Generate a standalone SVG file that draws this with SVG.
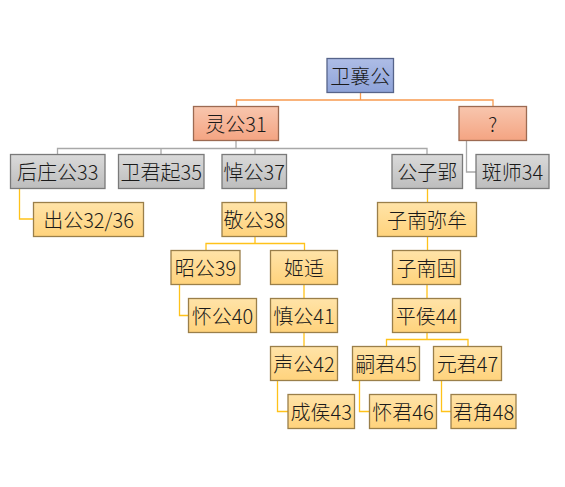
<svg xmlns="http://www.w3.org/2000/svg" width="565" height="487" viewBox="0 0 565 487">
<defs>
<linearGradient id="gb" x1="0" y1="0" x2="0" y2="1"><stop offset="0" stop-color="#aebde6"/><stop offset="1" stop-color="#8ea3d9"/></linearGradient>
<linearGradient id="go" x1="0" y1="0" x2="0" y2="1"><stop offset="0" stop-color="#f8c6ae"/><stop offset="1" stop-color="#f4a482"/></linearGradient>
<linearGradient id="gg" x1="0" y1="0" x2="0" y2="1"><stop offset="0" stop-color="#dadada"/><stop offset="1" stop-color="#bdbdbd"/></linearGradient>
<linearGradient id="gy" x1="0" y1="0" x2="0" y2="1"><stop offset="0" stop-color="#ffe3a8"/><stop offset="1" stop-color="#ffd37c"/></linearGradient>
</defs>
<style>
rect{stroke-width:1.3}
.b{fill:url(#gb);stroke:#56648a}
.o{fill:url(#go);stroke:#9c6a52}
.g{fill:url(#gg);stroke:#7a7a7a}
.y{fill:url(#gy);stroke:#9a7f4a}
text{font-family:"Microsoft YaHei","Noto Sans CJK SC","Liberation Sans",sans-serif;font-size:20px;font-weight:300;fill:#1a1a1a;text-anchor:middle;dominant-baseline:central}
.c path{fill:none;stroke-width:1.3}
.co{stroke:#f79a50}
.cg{stroke:#a8a8a8}
.cy{stroke:#ffc21a}
</style>
<rect width="565" height="487" fill="#ffffff"/>
<g class="c" id="connectors">
<path class="co" d="M360.5 92.5V100M236.5 106V100H493V106"/>
<path class="cg" d="M236 140.5V148.5M57.5 154.5V148.5H427V154.5M161 148.5V154.5M255 148.5V154.5"/>
<path class="cg" d="M466.5 140.5V172H476"/>
<path class="cy" d="M19.5 188.5V219H33"/>
<path class="cy" d="M255 188.5V202"/>
<path class="cy" d="M427.5 188.5V202"/>
<path class="cy" d="M255 236V243.5M206 250V243.5H304.5V250"/>
<path class="cy" d="M179.5 284V315.5H188"/>
<path class="cy" d="M304 284V298M304 332V346"/>
<path class="cy" d="M277.5 380.5V411.5H288"/>
<path class="cy" d="M427.5 236V250M427 284V298M427 332V339.5M386.5 346V339.5H468V346"/>
<path class="cy" d="M359.5 380.5V411.5H369"/>
<path class="cy" d="M441.5 380.5V411.5H451"/>
</g>
<g id="n1"><rect class="b" x="327" y="58.5" width="66.5" height="34"/><text x="360.3" y="75.5">卫襄公</text></g>
<g id="n2"><rect class="o" x="193.5" y="106.5" width="85" height="34"/><text x="236" y="123.5">灵公31</text></g>
<g id="n3"><rect class="o" x="459" y="106.5" width="67.5" height="34"/><text x="492.7" y="123.5">?</text></g>
<g id="n4"><rect class="g" x="10.5" y="154.5" width="94.5" height="34"/><text x="57.7" y="171.5">后庄公33</text></g>
<g id="n5"><rect class="g" x="118.5" y="154.5" width="85.5" height="34"/><text x="161.2" y="171.5">卫君起35</text></g>
<g id="n6"><rect class="g" x="222" y="154.5" width="64.5" height="34"/><text x="254.2" y="171.5">悼公37</text></g>
<g id="n7"><rect class="g" x="392" y="154.5" width="70.5" height="34"/><text x="427.2" y="171.5">公子郢</text></g>
<g id="n8"><rect class="g" x="476" y="154.5" width="73" height="34"/><text x="512.5" y="171.5">斑师34</text></g>
<g id="n9"><rect class="y" x="33.5" y="202.5" width="110" height="34"/><text x="88.5" y="219.5">出公32/36</text></g>
<g id="n10"><rect class="y" x="222" y="202.5" width="64.5" height="34"/><text x="254.2" y="219.5">敬公38</text></g>
<g id="n11"><rect class="y" x="377.5" y="202.5" width="99" height="34"/><text x="427" y="219.5">子南弥牟</text></g>
<g id="n12"><rect class="y" x="171" y="250.5" width="69" height="34"/><text x="205.5" y="267.5">昭公39</text></g>
<g id="n13"><rect class="y" x="270.5" y="250.5" width="67" height="34"/><text x="304" y="267.5">姬适</text></g>
<g id="n14"><rect class="y" x="392.5" y="250.5" width="68" height="34"/><text x="426.5" y="267.5">子南固</text></g>
<g id="n15"><rect class="y" x="188.5" y="298.5" width="68" height="34"/><text x="222.5" y="315.5">怀公40</text></g>
<g id="n16"><rect class="y" x="270.5" y="298.5" width="67" height="34"/><text x="304" y="315.5">慎公41</text></g>
<g id="n17"><rect class="y" x="392.5" y="298.5" width="68" height="34"/><text x="426.5" y="315.5">平侯44</text></g>
<g id="n18"><rect class="y" x="270.5" y="346.5" width="67" height="34"/><text x="304" y="363.5">声公42</text></g>
<g id="n19"><rect class="y" x="352.5" y="346.5" width="67" height="34"/><text x="386" y="363.5">嗣君45</text></g>
<g id="n20"><rect class="y" x="433.5" y="346.5" width="68" height="34"/><text x="467.5" y="363.5">元君47</text></g>
<g id="n21"><rect class="y" x="288" y="394.5" width="66.5" height="34"/><text x="321.2" y="411.5">成侯43</text></g>
<g id="n22"><rect class="y" x="369.5" y="394.5" width="67" height="34"/><text x="403" y="411.5">怀君46</text></g>
<g id="n23"><rect class="y" x="451" y="394.5" width="65" height="34"/><text x="483.5" y="411.5">君角48</text></g>
</svg>
